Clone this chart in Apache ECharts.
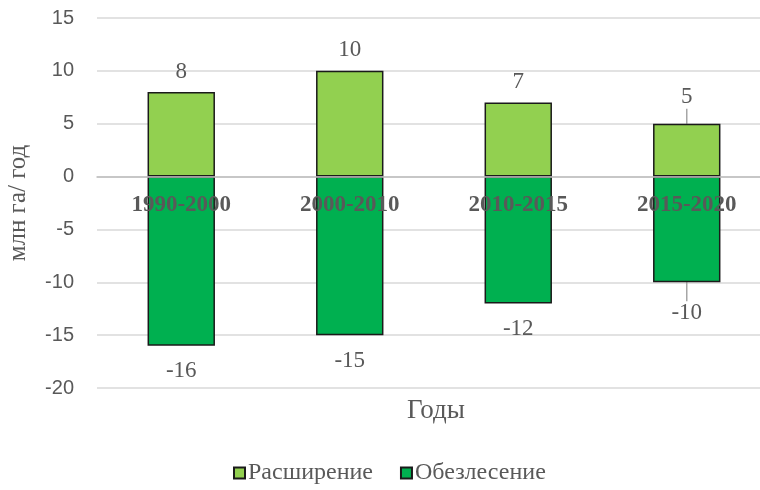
<!DOCTYPE html>
<html>
<head>
<meta charset="utf-8">
<script src="https://cdn.jsdelivr.net/npm/echarts@6/dist/echarts.min.js"></script>
<style>
  html, body { margin: 0; padding: 0; background: #fff; }
  #chart { width: 760px; height: 490px; }
</style>
</head>
<body>
<div id="chart"></div>
<script>
// Periods and yearly forest area change, million ha per year
const periods = ['1990-2000', '2000-2010', '2010-2015', '2015-2020'];
const expansion = [8, 10, 7, 5];
const deforestation = [-16, -15, -12, -10];
const seriesNames = ['Расширение', 'Обезлесение'];
const yTicks = { min: -20, max: 15, interval: 5 };

const serif = 'Liberation Serif';
const sans = 'Liberation Sans';
const textGray = '#595959';

// The last period's labels sit a little further out, with a short guide line
const guided = [false, false, false, true];

function withGuides(values) {
  return values.map(function (v, i) {
    return { value: v, labelLine: { show: guided[i] } };
  });
}

const valueLabel = {
  show: true,
  fontFamily: serif,
  fontSize: 23,
  color: textGray
};
const guideLine = { show: false, length2: 0, lineStyle: { color: '#a6a6a6', width: 1.5 } };

const chart = echarts.init(document.getElementById('chart'));
chart.setOption({
  animation: false,
  title: {
    text: 'Годы',
    left: 402,
    top: 392,
    textStyle: { fontFamily: serif, fontSize: 27, fontWeight: 'normal', color: textGray }
  },
  legend: {
    bottom: 0,
    left: 228,
    itemWidth: 11,
    itemHeight: 11,
    itemGap: 27,
    icon: 'rect',
    textStyle: { fontFamily: serif, fontSize: 24, color: textGray, padding: [0, 0, 0, -2] },
    data: seriesNames
  },
  // The plot area runs a little past the right edge of the canvas
  grid: {
    left: 97, width: 674, top: 18, bottom: 102,
    containLabel: false,
    outerBoundsMode: 'none'
  },
  xAxis: {
    type: 'category',
    data: periods,
    z: 5,
    axisLine: { onZero: true, lineStyle: { color: '#bfbfbf', width: 1.5 } },
    axisTick: { show: false },
    axisLabel: { show: false }
  },
  yAxis: {
    type: 'value',
    min: yTicks.min,
    max: yTicks.max,
    interval: yTicks.interval,
    name: 'млн га/ год',
    nameLocation: 'middle',
    nameGap: 66,
    nameTextStyle: { fontFamily: serif, fontSize: 25, color: textGray },
    axisLine: { show: false },
    axisTick: { show: false },
    axisLabel: { fontFamily: sans, fontSize: 20, color: textGray, margin: 23 },
    splitLine: { lineStyle: { color: '#d9d9d9', width: 1.5 } }
  },
  series: [
    {
      name: seriesNames[0],
      type: 'bar',
      data: withGuides(expansion),
      barWidth: '40%',
      barGap: '-100%',
      itemStyle: { color: '#92d050', borderColor: '#1a1a1a', borderWidth: 1.5 },
      label: Object.assign({ position: 'top', distance: 9 }, valueLabel),
      labelLine: guideLine,
      labelLayout: function (p) {
        return guided[p.dataIndex] ? { dy: -6 } : {};
      }
    },
    {
      name: seriesNames[1],
      type: 'bar',
      data: withGuides(deforestation),
      barWidth: '40%',
      barGap: '-100%',
      itemStyle: { color: '#00b050', borderColor: '#1a1a1a', borderWidth: 1.5 },
      label: Object.assign({ position: 'bottom', distance: 14 }, valueLabel),
      labelLine: guideLine,
      labelLayout: function (p) {
        return guided[p.dataIndex] ? { dy: 5 } : {};
      }
    },
    {
      // Period names printed just under the zero line, over the bars
      name: 'periods',
      type: 'bar',
      data: periods.map(function () { return 0; }),
      barWidth: '40%',
      barGap: '-100%',
      z: 10,
      silent: true,
      itemStyle: { color: 'rgba(0,0,0,0)', borderWidth: 0 },
      label: {
        show: true,
        position: 'bottom',
        distance: 17,
        formatter: function (p) { return p.name; },
        fontFamily: serif,
        fontSize: 23,
        fontWeight: 'bold',
        color: textGray
      }
    }
  ]
});
</script>
</body>
</html>
